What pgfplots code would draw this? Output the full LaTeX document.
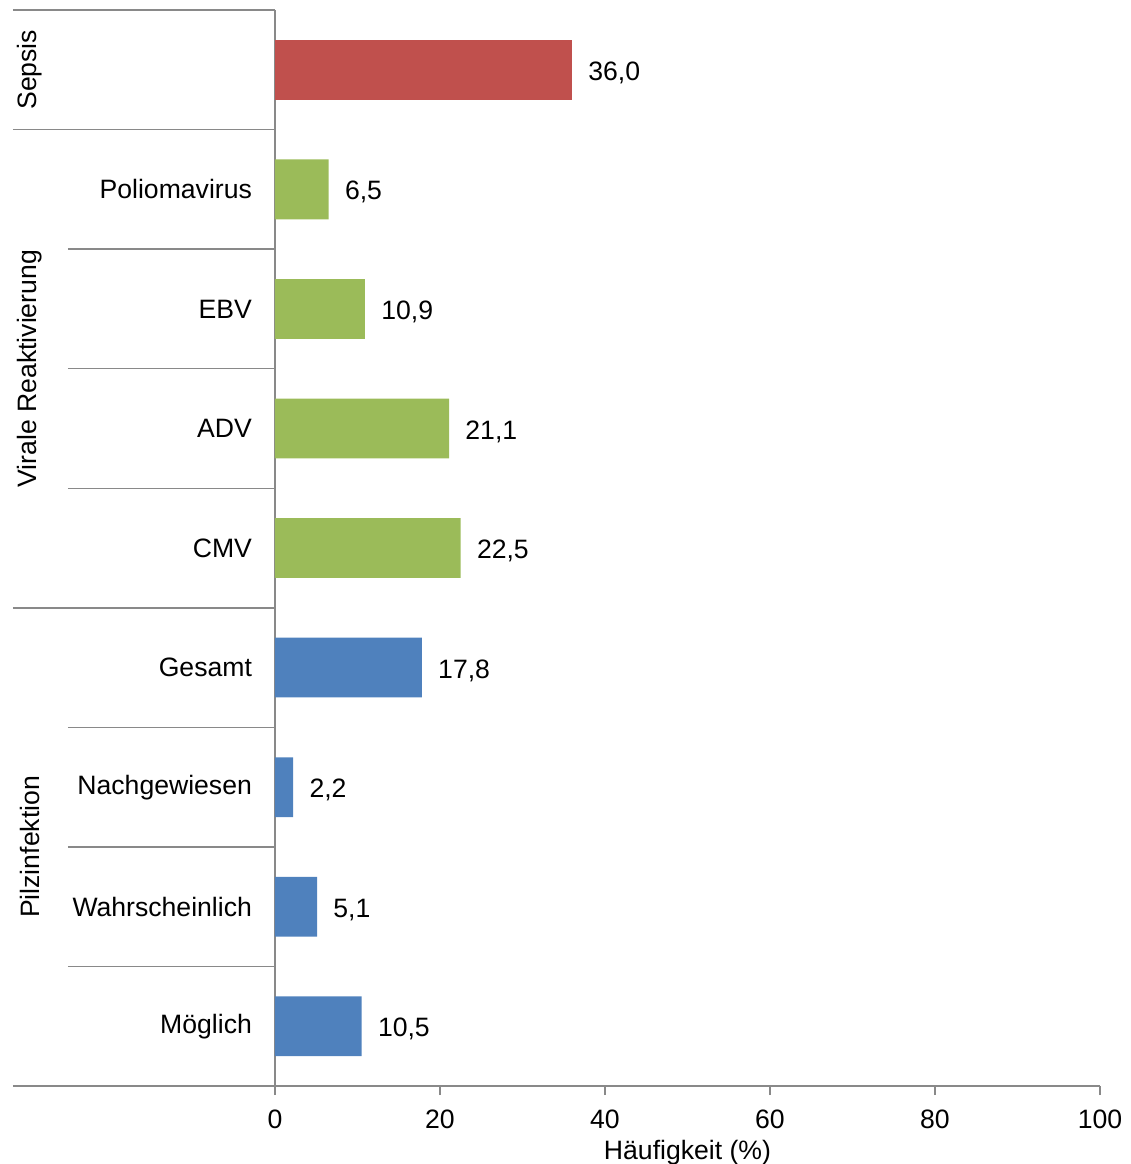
\documentclass[border=0pt]{standalone}
\usepackage{pgfplots}
\pgfplotsset{compat=1.18}
\usepackage{fontspec}
\setmainfont{Liberation Sans}

\definecolor{sepsisred}{HTML}{C0504D}
\definecolor{virusgreen}{HTML}{9BBB59}
\definecolor{pilzblue}{HTML}{4F81BD}
\definecolor{linegray}{HTML}{898989}

\begin{document}
\begin{tikzpicture}[font=\fontsize{13.3}{16}\selectfont]
\begin{axis}[
  scale only axis,
  width=412.5pt, height=538pt,
  xmin=0, xmax=100, ymin=-0.5, ymax=8.5,
  xbar, bar width=0.5, bar shift=0pt,
  clip=false,
  axis x line*=bottom, axis y line*=left,
  axis line style={linegray, line width=0.75pt},
  xtick={0,20,...,100},
  tick align=outside, major tick length=4.5pt,
  xtick style={linegray, line width=0.75pt},
  xticklabel style={yshift=-4pt},
  ytick={0,...,7},
  yticklabels={Möglich,Wahrscheinlich,Nachgewiesen,Gesamt,CMV,ADV,EBV,Poliomavirus},
  ytick style={draw=none},
  yticklabel style={anchor=east, xshift=-3.5pt},
  xlabel={Häufigkeit (\%)},
  xlabel style={at={(axis description cs:0.5,-0.0615)}, anchor=center},
  point meta=x,
  nodes near coords={\pgfmathprintnumber[fixed, fixed zerofill, precision=1, use comma]{\pgfplotspointmeta}},
  every node near coord/.append style={anchor=west, inner sep=0pt, xshift=8pt, yshift=-1.5pt, black},
  /pgf/number format/assume math mode=true,
]
% Sepsis
\addplot[fill=sepsisred, draw=none] coordinates {(36.0,8)};
% Virale Reaktivierung
\addplot[fill=virusgreen, draw=none] coordinates {(6.5,7) (10.9,6) (21.1,5) (22.5,4)};
% Pilzinfektion
\addplot[fill=pilzblue, draw=none] coordinates {(17.8,3) (2.2,2) (5.1,1) (10.5,0)};

% category table: group borders
\draw[linegray, line width=0.75pt] (axis cs:-31.76,8.5) -- (axis cs:0,8.5);
\draw[linegray, line width=0.75pt] (axis cs:-31.76,7.5) -- (axis cs:0,7.5);
\draw[linegray, line width=0.75pt] (axis cs:-31.76,3.5) -- (axis cs:0,3.5);
\draw[linegray, line width=0.75pt] (axis cs:-31.76,-0.5) -- (axis cs:0,-0.5);
% category table: borders within groups
\draw[linegray, line width=0.75pt] (axis cs:-25.09,6.5) -- (axis cs:0,6.5);
\draw[linegray, line width=0.75pt] (axis cs:-25.09,5.5) -- (axis cs:0,5.5);
\draw[linegray, line width=0.75pt] (axis cs:-25.09,4.5) -- (axis cs:0,4.5);
\draw[linegray, line width=0.75pt] (axis cs:-25.09,2.5) -- (axis cs:0,2.5);
\draw[linegray, line width=0.75pt] (axis cs:-25.09,1.5) -- (axis cs:0,1.5);
\draw[linegray, line width=0.75pt] (axis cs:-25.09,0.5) -- (axis cs:0,0.5);
% group names
\node[rotate=90, anchor=center] at (axis cs:-29.7,8) {Sepsis};
\node[rotate=90, anchor=center] at (axis cs:-29.7,5.5) {Virale Reaktivierung};
\node[rotate=90, anchor=center] at (axis cs:-29.7,1.5) {Pilzinfektion};

% page corners
\coordinate (pageLL) at (axis cs:-33.33,-1.152);
\coordinate (pageUR) at (axis cs:103.64,8.584);
\end{axis}
\pgfresetboundingbox
\path (pageLL) rectangle (pageUR);
\end{tikzpicture}
\end{document}
